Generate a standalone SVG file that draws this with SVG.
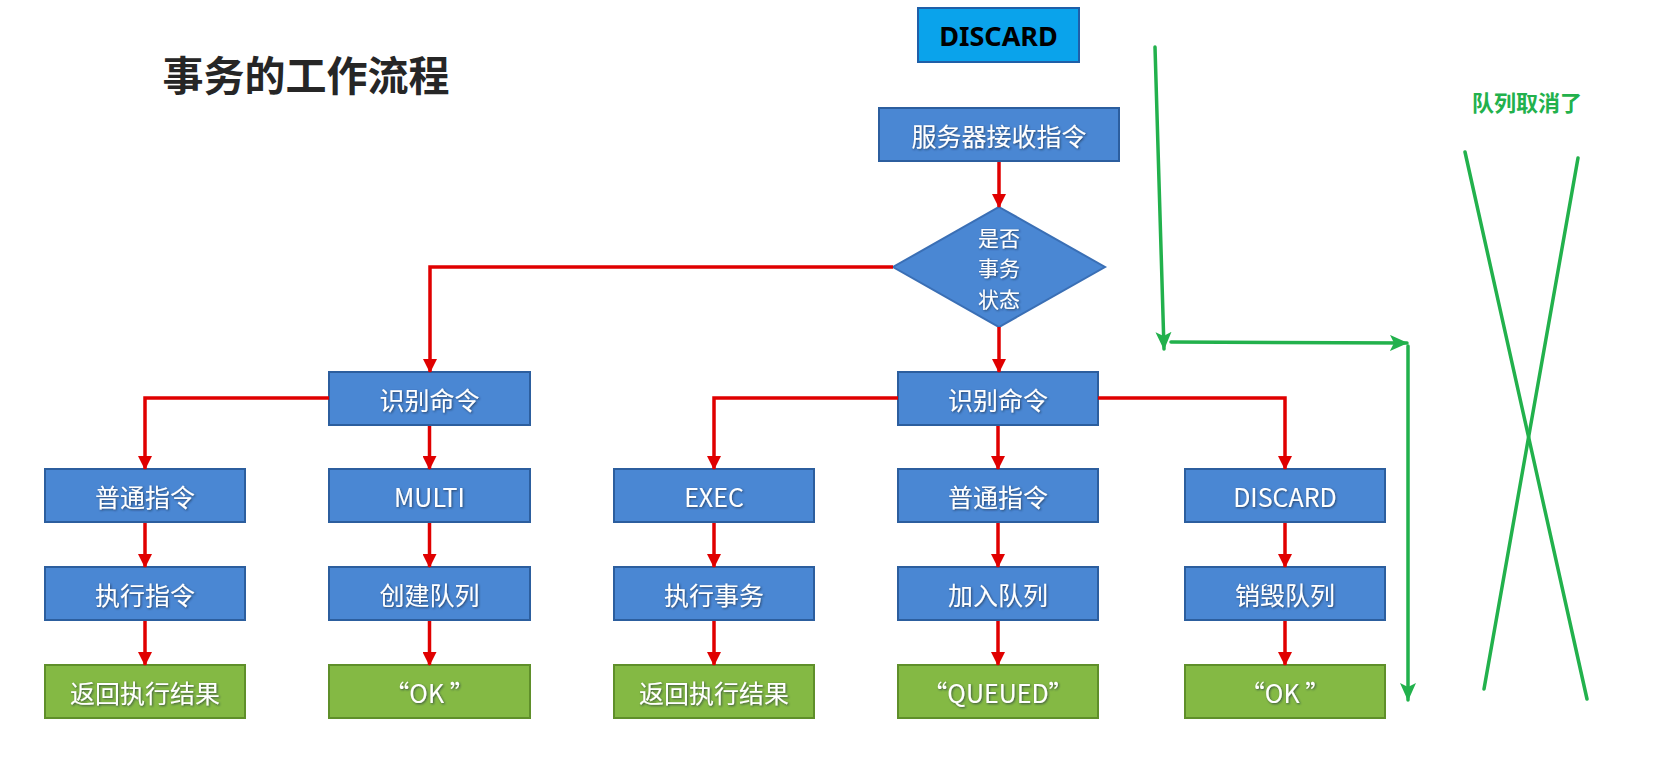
<svg xmlns="http://www.w3.org/2000/svg" width="1653" height="768" viewBox="0 0 1653 768">
<defs>
<marker id="ar" markerUnits="userSpaceOnUse" markerWidth="14" markerHeight="14" refX="13" refY="7" orient="auto"><path d="M0,0 L14,7 L0,14 z" fill="#e00000"/></marker>
<marker id="ag" markerUnits="userSpaceOnUse" markerWidth="18" markerHeight="16" refX="17" refY="8" orient="auto"><path d="M0,0 L18,8 L0,16 L4,8 z" fill="#22b14c"/></marker>
<filter id="sh" x="-10%" y="-30%" width="120%" height="160%"><feDropShadow dx="1" dy="1" stdDeviation="0.8" flood-color="#1a2a40" flood-opacity="0.7"/></filter>
</defs>
<style>
.b{fill:#4a87d3;stroke:#2c5e9e;stroke-width:2}
.g{fill:#84b944;stroke:#5f8f2a;stroke-width:2}
.t{font-family:"Noto Sans CJK SC","Noto Sans",sans-serif;font-size:25px;fill:#fff;text-anchor:middle;dominant-baseline:central;filter:url(#sh)}
.d{font-size:21px}
.r{fill:none;stroke:#e00000;stroke-width:3.5;marker-end:url(#ar)}
.gl{fill:none;stroke:#22b14c;stroke-width:3.5;stroke-linecap:round}
</style>
<rect width="1653" height="768" fill="#ffffff"/>
<text x="306" y="73" font-family="'Noto Sans CJK SC',sans-serif" font-size="41" font-weight="bold" fill="#262626" text-anchor="middle" dominant-baseline="central">事务的工作流程</text>

<g id="discard-top"><rect x="918" y="8" width="161" height="54" fill="#0aa3eb" stroke="#1f5fa8" stroke-width="2"/><text x="998.5" y="35" font-family="'Noto Sans','Open Sans',sans-serif" font-size="27" font-weight="bold" fill="#000" text-anchor="middle" dominant-baseline="central">DISCARD</text></g>

<g id="n-recv"><rect class="b" x="879" y="108" width="240" height="53"/><text class="t" x="999" y="135">服务器接收指令</text></g>
<g id="n-dec"><path class="b" d="M999,207 L1105,267 L999,327 L893,267 z" style="stroke:#3a6fb5"/><text class="t d" x="999" y="236.5">是否</text><text class="t d" x="999" y="267">事务</text><text class="t d" x="999" y="297.5">状态</text></g>

<g id="n-idL"><rect class="b" x="329" y="372" width="201" height="53"/><text class="t" x="429.5" y="398.5">识别命令</text></g>
<g id="n-idR"><rect class="b" x="898" y="372" width="200" height="53"/><text class="t" x="998" y="398.5">识别命令</text></g>

<g id="n-a1"><rect class="b" x="45" y="469" width="200" height="53"/><text class="t" x="145" y="495.5">普通指令</text></g>
<g id="n-a2"><rect class="b" x="45" y="567" width="200" height="53"/><text class="t" x="145" y="593.5">执行指令</text></g>
<g id="n-a3"><rect class="g" x="45" y="665" width="200" height="53"/><text class="t" x="145" y="691.5">返回执行结果</text></g>

<g id="n-b1"><rect class="b" x="329" y="469" width="201" height="53"/><text class="t" x="429.5" y="495.5">MULTI</text></g>
<g id="n-b2"><rect class="b" x="329" y="567" width="201" height="53"/><text class="t" x="429.5" y="593.5">创建队列</text></g>
<g id="n-b3"><rect class="g" x="329" y="665" width="201" height="53"/><text class="t" x="429.5" y="691.5">“OK ”</text></g>

<g id="n-c1"><rect class="b" x="614" y="469" width="200" height="53"/><text class="t" x="714" y="495.5">EXEC</text></g>
<g id="n-c2"><rect class="b" x="614" y="567" width="200" height="53"/><text class="t" x="714" y="593.5">执行事务</text></g>
<g id="n-c3"><rect class="g" x="614" y="665" width="200" height="53"/><text class="t" x="714" y="691.5">返回执行结果</text></g>

<g id="n-d1"><rect class="b" x="898" y="469" width="200" height="53"/><text class="t" x="998" y="495.5">普通指令</text></g>
<g id="n-d2"><rect class="b" x="898" y="567" width="200" height="53"/><text class="t" x="998" y="593.5">加入队列</text></g>
<g id="n-d3"><rect class="g" x="898" y="665" width="200" height="53"/><text class="t" x="998" y="691.5">“QUEUED”</text></g>

<g id="n-e1"><rect class="b" x="1185" y="469" width="200" height="53"/><text class="t" x="1285" y="495.5">DISCARD</text></g>
<g id="n-e2"><rect class="b" x="1185" y="567" width="200" height="53"/><text class="t" x="1285" y="593.5">销毁队列</text></g>
<g id="n-e3"><rect class="g" x="1185" y="665" width="200" height="53"/><text class="t" x="1285" y="691.5">“OK ”</text></g>

<g id="connectors">
<path class="r" d="M999,162 V207"/>
<path class="r" d="M893,267 H430 V372"/>
<path class="r" d="M999,327 V372"/>
<path class="r" d="M329,398 H145 V469"/>
<path class="r" d="M429.5,426 V469"/>
<path class="r" d="M898,398 H714 V469"/>
<path class="r" d="M998,426 V469"/>
<path class="r" d="M1098,398 H1285 V469"/>
<path class="r" d="M145,523 V567"/>
<path class="r" d="M145,621 V665"/>
<path class="r" d="M429.5,523 V567"/>
<path class="r" d="M429.5,621 V665"/>
<path class="r" d="M714,523 V567"/>
<path class="r" d="M714,621 V665"/>
<path class="r" d="M998,523 V567"/>
<path class="r" d="M998,621 V665"/>
<path class="r" d="M1285,523 V567"/>
<path class="r" d="M1285,621 V665"/>
</g>

<g id="annotation">
<path class="gl" d="M1155,47 L1164,349" marker-end="url(#ag)"/>
<path class="gl" d="M1171,342 L1407,343" marker-end="url(#ag)"/>
<path class="gl" d="M1408,346 L1408,700" marker-end="url(#ag)"/>
<line class="gl" x1="1465" y1="152" x2="1587" y2="699"/>
<line class="gl" x1="1578" y1="158" x2="1484" y2="689"/>
<text x="1527" y="101" font-family="'Noto Sans CJK SC',sans-serif" font-size="22" font-weight="bold" fill="#22b14c" text-anchor="middle" dominant-baseline="central">队列取消了</text>
</g>
</svg>
